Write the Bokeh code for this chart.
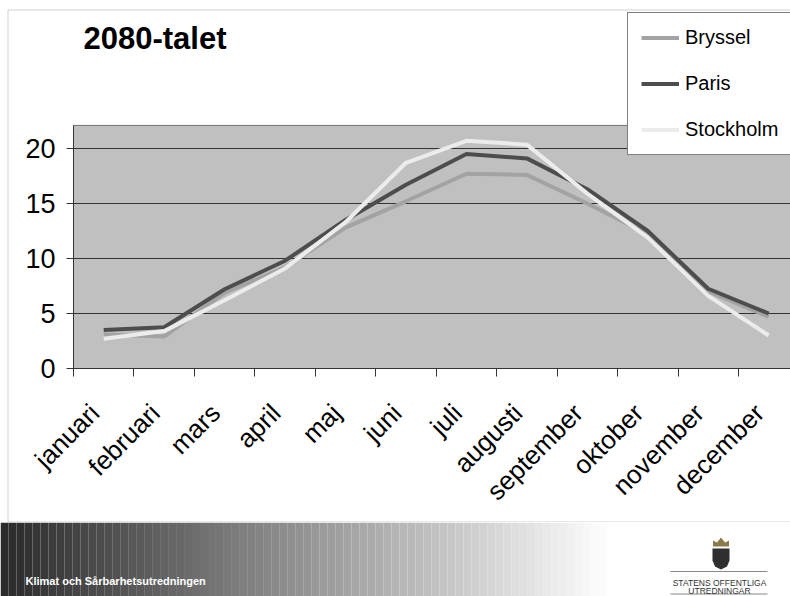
import numpy as np
from math import pi
from bokeh.plotting import figure
from bokeh.models import (Range1d, FixedTicker, Legend, LegendItem, Label,
                          BoxAnnotation)
from bokeh.layouts import column
from bokeh.core.properties import value
from bokeh.embed import file_html
from bokeh.resources import INLINE

# ---------------- data ----------------
months = ["januari", "februari", "mars", "april", "maj", "juni", "juli",
          "augusti", "september", "oktober", "november", "december"]
bryssel = [3.1, 2.9, 6.9, 9.2, 12.8, 15.2, 17.7, 17.6, 15.0, 12.2, 7.0, 4.7]
paris = [3.5, 3.75, 7.2, 9.8, 13.5, 16.7, 19.5, 19.1, 16.3, 12.5, 7.25, 5.0]
stockholm = [2.7, 3.4, 6.2, 9.1, 13.3, 18.7, 20.7, 20.35, 15.9, 11.9, 6.6, 3.0]
y_ticks = [0, 5, 10, 15, 20]
y_max = 22.1
series_names = ["Bryssel", "Paris", "Stockholm"]
title_text = "2080-talet"
footer_text = "Klimat och Sårbarhetsutredningen"
logo_lines = ["STATENS OFFENTLIGA", "UTREDNINGAR"]

FONT = "Liberation Sans"
n = len(months)
centers = [i + 0.5 for i in range(n)]
bounds = list(range(n + 1))

# ---------------- layout geometry (pixels) ----------------
W, H = 790, 522           # main chart canvas
PX_LEFT, PX_ZERO = 73, 368  # pixel of x=0 and of y=0
PX_PER_X, PX_PER_Y = 60.45, 11.0

x_range = Range1d(-PX_LEFT / PX_PER_X, (W - PX_LEFT) / PX_PER_X)
y_range = Range1d(-(H - PX_ZERO) / PX_PER_Y, PX_ZERO / PX_PER_Y)

p = figure(width=W, height=H, output_backend="svg", toolbar_location=None,
           x_range=x_range, y_range=y_range, min_border=0)
p.background_fill_color = "white"
p.border_fill_color = "white"
p.outline_line_color = None
p.xgrid.visible = False
p.ygrid.visible = False

# plot area (grey) and grid lines
p.quad(left=[0], right=[n], bottom=[0], top=[y_max], fill_color="#c0c0c0",
       line_color="#707070", line_width=1)
p.segment(x0=[0] * (len(y_ticks) - 1), x1=[n] * (len(y_ticks) - 1),
          y0=y_ticks[1:], y1=y_ticks[1:], line_color="#333333", line_width=1)

colors = ["#a3a3a3", "#4d4d4d", "#ececec"]
renderers = []
for name, vals, c in zip(series_names, [bryssel, paris, stockholm], colors):
    r = p.line(centers, vals, line_color=c, line_width=4)
    renderers.append((name, r))

# y axis
ya = p.yaxis[0]
ya.fixed_location = 0
ya.bounds = (0, y_max)
ya.ticker = FixedTicker(ticks=y_ticks, minor_ticks=[])
ya.major_label_text_font = FONT
ya.major_label_text_font_size = "27px"
ya.major_label_text_color = "black"
ya.major_tick_out = 7
ya.major_tick_in = 0
ya.major_tick_line_color = "#333333"
ya.axis_line_color = "#333333"
ya.major_label_standoff = 11

# x axis
label_pos = [c - 0.15 for c in centers]
xa = p.xaxis[0]
xa.fixed_location = 0
xa.bounds = (0, n)
xa.ticker = FixedTicker(ticks=label_pos, minor_ticks=bounds)
xa.major_label_overrides = {lp: m for lp, m in zip(label_pos, months)}
xa.major_tick_line_color = None
xa.major_tick_out = 8
xa.major_tick_in = 0
xa.minor_tick_line_color = "#333333"
xa.minor_tick_out = 8
xa.minor_tick_in = 0
xa.axis_line_color = "#333333"
xa.major_label_orientation = pi / 4
xa.major_label_text_font = FONT
xa.major_label_text_font_size = "26px"
xa.major_label_text_color = "black"
xa.major_label_standoff = 32

# outer chart border
p.add_layout(BoxAnnotation(left=7.5, right=W + 20, top=H - 9.5, bottom=0.5,
                           left_units="screen", right_units="screen",
                           top_units="screen", bottom_units="screen",
                           fill_alpha=0, line_color="#666666", line_width=1))

# title
p.add_layout(Label(x=83, y=H - 38, x_units="screen", y_units="screen",
                   text=title_text, text_font=FONT, text_font_style="bold",
                   text_font_size="31px", text_color="black",
                   text_baseline="alphabetic"))

# legend
legend = Legend(items=[LegendItem(label=nm, renderers=[r]) for nm, r in renderers],
                location=(627, H - 155), orientation="vertical",
                label_text_font=FONT, label_text_font_size="20px",
                label_text_color="black", label_height=23, glyph_height=23,
                glyph_width=38, spacing=23, padding=13, label_standoff=6,
                border_line_color="black", border_line_width=1,
                background_fill_color="white", background_fill_alpha=1,
                margin=0)
p.add_layout(legend)

# ---------------- footer ----------------
FH = 74
f = figure(width=W, height=FH, output_backend="svg", toolbar_location=None,
           x_range=Range1d(0, W), y_range=Range1d(0, FH), min_border=0)
f.axis.visible = False
f.grid.visible = False
f.outline_line_color = None
f.background_fill_color = "white"
f.border_fill_color = "white"

edges = np.linspace(0, W, 100)
lefts, rights = edges[:-1], edges[1:]
mids = (lefts + rights) / 2
g = np.clip(42 + 0.35 * mids, 0, 255).astype(int)
fills = ["#%02x%02x%02x" % (v, v, v) for v in g]
f.quad(left=lefts, right=rights, bottom=0, top=FH, fill_color=fills,
       line_color=None)

f.text(x=[25], y=[16], text=[footer_text], text_font=value(FONT),
       text_font_style="bold", text_font_size="11px", text_color="white",
       text_baseline="alphabetic")

# logo
lx = 720.5
f.patch([lx - 8.5, lx + 8.5, lx + 8.5, lx + 6, lx, lx - 6, lx - 8.5],
        [48, 48, 36, 30, 27, 30, 36], fill_color="#2f2f2f", line_color=None)
f.patch([lx - 8, lx - 8, lx - 4, lx, lx + 4, lx + 8, lx + 8],
        [50, 56, 54, 59, 54, 56, 50], fill_color="#8a7a4a", line_color=None)
f.segment(x0=[670, 670], y0=[25, 2.5], x1=[767, 767], y1=[25, 2.5],
          line_color="#888888", line_width=1)
f.text(x=[719, 719], y=[14, 5.5], text=logo_lines,
       text_font=value(FONT),
       text_font_size="8.5px", text_color="#333333", text_align="center",
       text_baseline="alphabetic")

layout = column(p, f, spacing=0)
open("out.html", "w").write(file_html(layout, INLINE))
